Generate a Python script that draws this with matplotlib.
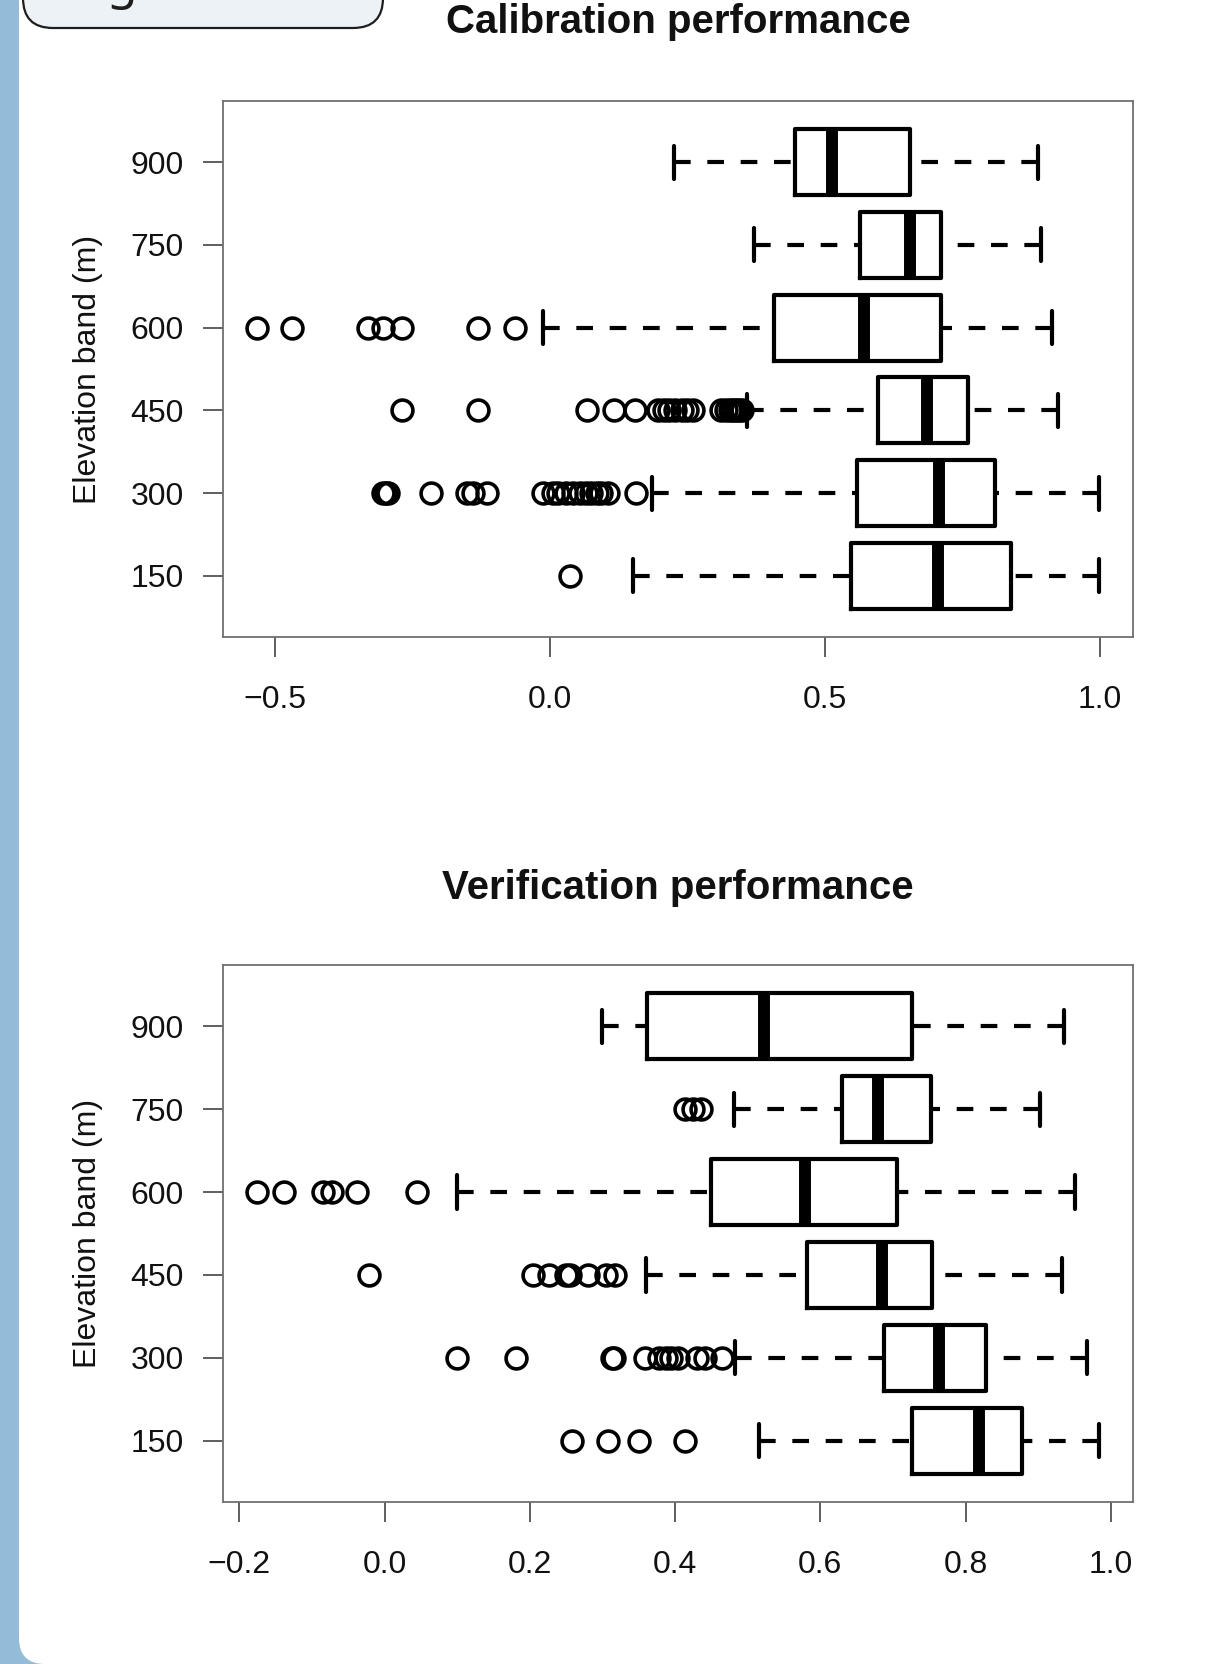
import matplotlib
matplotlib.use('Agg')
import matplotlib.pyplot as plt
from matplotlib.patches import Rectangle, FancyBboxPatch
from matplotlib.transforms import IdentityTransform

# ---------------- data ----------------
bands = ['150', '300', '450', '600', '750', '900']

# Calibration performance (ordered 150 ... 900)
cal_whislo = [0.152, 0.185, 0.359, -0.012, 0.371, 0.225]
cal_q1 = [0.547, 0.559, 0.597, 0.407, 0.564, 0.445]
cal_med = [0.706, 0.708, 0.685, 0.571, 0.655, 0.513]
cal_q3 = [0.838, 0.810, 0.761, 0.712, 0.712, 0.655]
cal_whishi = [0.999, 0.999, 0.924, 0.913, 0.893, 0.887]
cal_out_150 = [0.036]
cal_out_300 = [-0.303, -0.298, -0.295, -0.216, -0.150, -0.140, -0.114, -0.012,
               0.005, 0.014, 0.030, 0.042, 0.055, 0.066, 0.075, 0.085, 0.093,
               0.105, 0.156]
cal_out_450 = [-0.268, -0.130, 0.067, 0.116, 0.154, 0.197, 0.207, 0.216, 0.228,
               0.240, 0.250, 0.261, 0.312, 0.320, 0.327, 0.333, 0.338, 0.344,
               0.350]
cal_out_600 = [-0.533, -0.468, -0.331, -0.303, -0.268, -0.130, -0.063]
cal_out_750 = []
cal_out_900 = []

# Verification performance (ordered 150 ... 900)
ver_whislo = [0.515, 0.483, 0.360, 0.100, 0.481, 0.300]
ver_q1 = [0.726, 0.688, 0.581, 0.449, 0.630, 0.362]
ver_med = [0.818, 0.764, 0.685, 0.579, 0.680, 0.522]
ver_q3 = [0.878, 0.828, 0.753, 0.706, 0.752, 0.726]
ver_whishi = [0.984, 0.967, 0.933, 0.951, 0.903, 0.935]
ver_out_150 = [0.258, 0.307, 0.350, 0.413]
ver_out_300 = [0.100, 0.181, 0.313, 0.316, 0.359, 0.378, 0.388, 0.395, 0.404,
               0.430, 0.441, 0.465]
ver_out_450 = [-0.022, 0.204, 0.227, 0.250, 0.255, 0.280, 0.305, 0.317]
ver_out_600 = [-0.176, -0.139, -0.085, -0.072, -0.038, 0.044]
ver_out_750 = [0.413, 0.425, 0.436]
ver_out_900 = []

cal_xticks = [-0.5, 0.0, 0.5, 1.0]
cal_xticklabels = ['\u22120.5', '0.0', '0.5', '1.0']
ver_xticks = [-0.2, 0.0, 0.2, 0.4, 0.6, 0.8, 1.0]
ver_xticklabels = ['\u22120.2', '0.0', '0.2', '0.4', '0.6', '0.8', '1.0']

titles = ['Calibration performance', 'Verification performance']
ylabel = 'Elevation band (m)'

# ---------------- figure ----------------
W, H = 1209, 1664
DPI = 100
plt.rcParams['font.family'] = ['Liberation Sans', 'DejaVu Sans']

fig = plt.figure(figsize=(W / DPI, H / DPI), dpi=DPI)
fig.patch.set_facecolor('white')

# page decoration: blue strip on the left and the white card
fig.patches.append(Rectangle((0, 0), 60, H, transform=IdentityTransform(),
                             facecolor='#94bcd8', edgecolor='none', zorder=-3))
fig.patches.append(FancyBboxPatch((19, 0), 1400, H + 200,
                                  boxstyle='round,pad=0,rounding_size=26',
                                  transform=IdentityTransform(),
                                  facecolor='white', edgecolor='none', zorder=-2))
# header tab in the top-left corner (cut off)
fig.patches.append(FancyBboxPatch((23, H - 28), 360, 120,
                                  boxstyle='round,pad=0,rounding_size=30',
                                  transform=IdentityTransform(),
                                  facecolor='#edf2f6', edgecolor='#1e1e1e',
                                  linewidth=1.6, zorder=-1))
fig.text(68 / W, (H + 2) / H, 'Figure 3', fontsize=36, family=['Noto Sans'],
         ha='left', va='baseline', color='#1e1e1e')


def draw_panel(ax, whislo, q1, med, q3, whishi, fliers, xticks, xticklabels,
               title, title_y_px):
    stats = []
    for i, b in enumerate(bands):
        stats.append(dict(whislo=whislo[i], q1=q1[i], med=med[i], q3=q3[i],
                          whishi=whishi[i], fliers=fliers[i], label=b))
    lw = 3.0
    art = ax.bxp(stats, positions=range(1, 7), widths=0.8, capwidths=0.4,
                 orientation='horizontal',
                 boxprops=dict(color='black', linewidth=lw,
                               solid_joinstyle='round'),
                 whiskerprops=dict(color='black', linewidth=lw,
                                   linestyle=(0, (4.0, 4.0)),
                                   dash_capstyle='butt'),
                 capprops=dict(color='black', linewidth=lw,
                               solid_capstyle='round'),
                 medianprops=dict(color='black', linewidth=8.6,
                                  solid_capstyle='butt'),
                 flierprops=dict(marker='o', markerfacecolor='none',
                                 markeredgecolor='black', markersize=15,
                                 markeredgewidth=2.6, linestyle='none'))
    # R draws whiskers from the staple towards the box (dash phase)
    for wl in art['whiskers']:
        wl.set_xdata(list(wl.get_xdata())[::-1])
        wl.set_ydata(list(wl.get_ydata())[::-1])

    allvals = list(whislo) + list(whishi) + [v for f in fliers for v in f]
    lo, hi = min(allvals), max(allvals)
    pad = 0.04 * (hi - lo)
    ax.set_xlim(lo - pad, hi + pad)
    ax.set_ylim(0.26, 6.74)
    ax.set_xticks(xticks)
    ax.set_xticklabels(xticklabels)
    ax.set_yticks(range(1, 7))
    ax.set_yticklabels(bands)
    ax.tick_params(axis='both', direction='out', length=14.4, width=1.1,
                   color='#333333', labelsize=23, labelcolor='#111111')
    ax.tick_params(axis='x', pad=20.5)
    ax.tick_params(axis='y', pad=14)
    for sp in ax.spines.values():
        sp.set_color('#707070')
        sp.set_linewidth(1.3)
    ax.set_ylabel(ylabel, fontsize=23, va='center', color='#111111')
    ax.yaxis.set_label_coords((88 - 223) / 910, 0.5)
    fig.text(678 / W, 1 - title_y_px / H, title, ha='center', va='baseline',
             fontsize=29, fontweight='bold', color='#111111')


ax1 = fig.add_axes([223 / W, 1 - 637 / H, 910 / W, 536 / H])
ax2 = fig.add_axes([223 / W, 1 - 1502 / H, 910 / W, 537 / H])

draw_panel(ax1, cal_whislo, cal_q1, cal_med, cal_q3, cal_whishi,
           [cal_out_150, cal_out_300, cal_out_450, cal_out_600, cal_out_750,
            cal_out_900],
           cal_xticks, cal_xticklabels, titles[0], 33)
draw_panel(ax2, ver_whislo, ver_q1, ver_med, ver_q3, ver_whishi,
           [ver_out_150, ver_out_300, ver_out_450, ver_out_600, ver_out_750,
            ver_out_900],
           ver_xticks, ver_xticklabels, titles[1], 899)

fig.savefig('out.png', dpi=DPI, facecolor='white')
